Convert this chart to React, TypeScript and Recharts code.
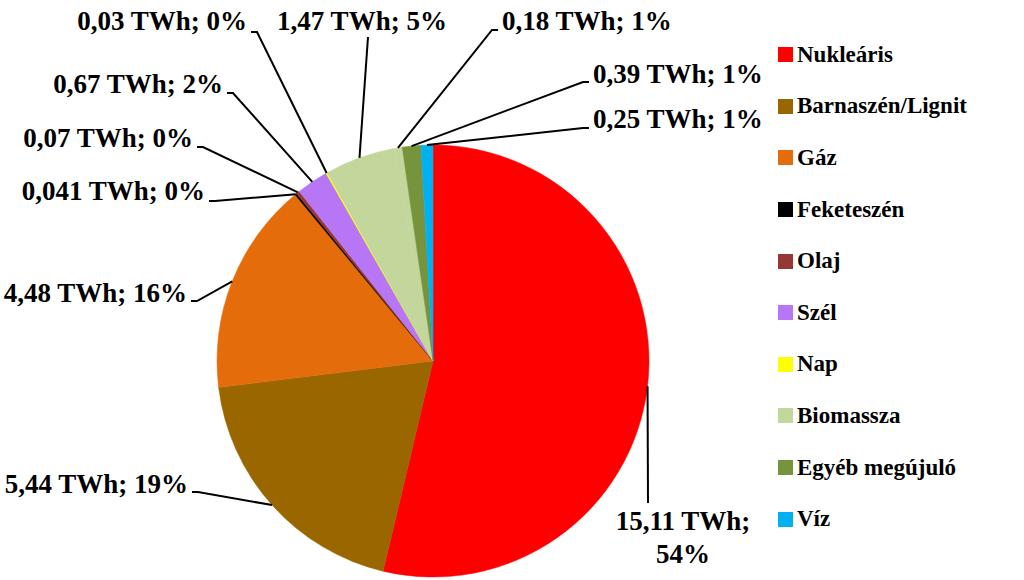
import React from 'react';
import { PieChart, Pie, Cell, Legend } from 'recharts';

// Villamosenergia-termelés forrásonként (TWh)
const SOURCES = ['Nukleáris', 'Barnaszén/Lignit', 'Gáz', 'Feketeszén', 'Olaj', 'Szél', 'Nap', 'Biomassza', '', 'Egyéb megújuló', 'Víz'];
const VALUES = [15.11, 5.44, 4.48, 0.041, 0.07, 0.67, 0.03, 1.47, 0.18, 0.39, 0.25];
const COLORS = ['#FF0000', '#996600', '#E46C0A', '#000000', '#953735', '#B776F5', '#FFFF00', '#C3D69B', '#C3D69B', '#77933C', '#00B0F0'];

// label placement, relative to pie centre: text (x, baseline, anchor) and leader start
const LABEL_LAYOUT = [
  { tx: 250, ty: 169, anchor: 'middle', lx: 215, ly: 142 },
  { tx: -245, ty: 132, anchor: 'end', lx: -241, ly: 131 },
  { tx: -246, ty: -59, anchor: 'end', lx: -242, ly: -60 },
  { tx: -228, ty: -161, anchor: 'end', lx: -224, ly: -160 },
  { tx: -240, ty: -214, anchor: 'end', lx: -236, ly: -214 },
  { tx: -210, ty: -268, anchor: 'end', lx: -206, ly: -268 },
  { tx: -186, ty: -331, anchor: 'end', lx: -182, ly: -329 },
  { tx: -71, ty: -331, anchor: 'middle', lx: -65, ly: -324 },
  { tx: 69, ty: -331, anchor: 'start', lx: 65, ly: -331 },
  { tx: 160, ty: -278, anchor: 'start', lx: 156, ly: -279 },
  { tx: 160, ty: -233, anchor: 'start', lx: 156, ly: -233 },
];

const FONT = 'Liberation Serif, serif';
const RADIAN = Math.PI / 180;

const chartData = SOURCES.map((name, i) => ({ name, value: VALUES[i] }));

const fmt = (v: number) => String(v).replace('.', ',');

const renderLabel = (props: any) => {
  const { cx, cy, midAngle, outerRadius, index, value, percent } = props;
  const lay = LABEL_LAYOUT[index];
  const ax = cx + outerRadius * Math.cos(-midAngle * RADIAN);
  const ay = cy + outerRadius * Math.sin(-midAngle * RADIAN);
  const sx = cx + lay.lx;
  const sy = cy + lay.ly;
  let pts = `${sx},${sy} ${ax},${ay}`;
  if (lay.anchor === 'end') pts = `${sx},${sy} ${sx + 6},${sy} ${ax},${ay}`;
  if (lay.anchor === 'start') pts = `${sx},${sy} ${sx - 6},${sy} ${ax},${ay}`;
  const pct = Math.round(percent * 100);
  const big = index === 0;
  return (
    <g key={`lbl-${index}`}>
      <polyline points={pts} fill="none" stroke="#000" strokeWidth={2} />
      <text
        x={cx + lay.tx}
        y={cy + lay.ty}
        textAnchor={lay.anchor}
        style={{ fontFamily: FONT, fontWeight: 700, fontSize: 27 }}
        fill="#000"
      >
        {big ? (
          <>
            <tspan x={cx + lay.tx} y={cy + lay.ty}>{`${fmt(value)} TWh;`}</tspan>
            <tspan x={cx + lay.tx} y={cy + lay.ty + 33}>{`${pct}%`}</tspan>
          </>
        ) : (
          `${fmt(value)} TWh; ${pct}%`
        )}
      </text>
    </g>
  );
};

const renderLegend = () => (
  <div style={{ fontFamily: FONT, fontWeight: 700, fontSize: 23, color: '#000' }}>
    {SOURCES.map((name, i) =>
      name ? (
        <div key={name} style={{ height: 51.6, display: 'flex', alignItems: 'center' }}>
          <span style={{ width: 15, height: 15, background: COLORS[i], marginRight: 4, display: 'inline-block' }} />
          <span>{name}</span>
        </div>
      ) : null
    )}
  </div>
);

export default function App() {
  return (
    <div style={{ position: 'absolute', left: 0, top: 0, width: 1024, height: 580, background: '#fff', fontFamily: FONT }}>
      <PieChart width={1024} height={580} margin={{ top: 0, right: 0, bottom: 0, left: 0 }} style={{ fontFamily: FONT }}>
        <Pie
          data={chartData}
          dataKey="value"
          nameKey="name"
          cx={433}
          cy={361}
          outerRadius={216}
          startAngle={90}
          endAngle={-270}
          label={renderLabel}
          labelLine={false}
          isAnimationActive={false}
        >
          {chartData.map((d, i) => (
            <Cell key={i} fill={COLORS[i]} stroke={COLORS[i]} strokeWidth={0.5} />
          ))}
        </Pie>
        <Legend
          content={renderLegend}
          wrapperStyle={{ position: 'absolute', left: 778, top: 29, width: 240, fontFamily: FONT }}
        />
      </PieChart>
    </div>
  );
}
